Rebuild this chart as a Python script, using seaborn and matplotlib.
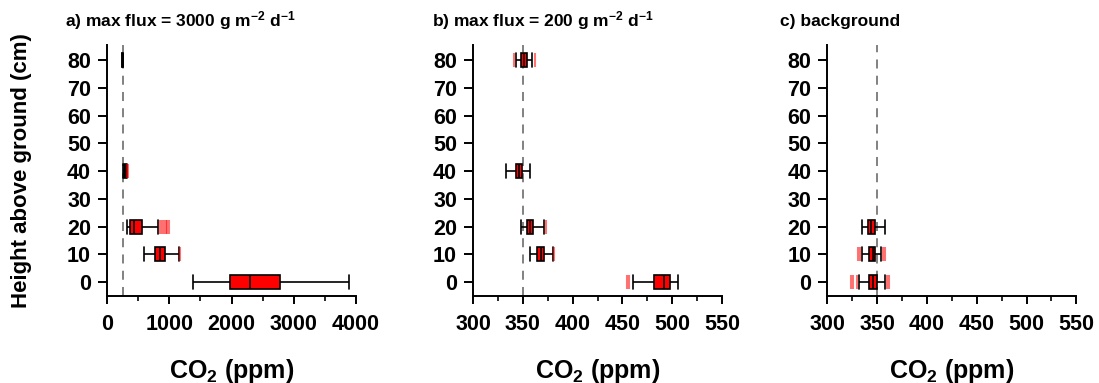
import numpy as np
import pandas as pd
import matplotlib
matplotlib.use("Agg")
import matplotlib.pyplot as plt
from matplotlib.ticker import MultipleLocator
import seaborn as sns

# ---- data (five-number summaries per height) ----
heights_a = [0, 10, 20, 40, 80]
lo_a  = [1376, 587, 315, 255, 238]
q1_a  = [1968, 773, 368, 268, 245]
med_a = [2304, 859, 437, 285, 250]
q3_a  = [2779, 928, 555, 305, 255]
hi_a  = [3883, 1157, 821, 318, 262]
out_h_a = [20, 20, 20, 20, 20, 20, 10, 40, 40]
out_v_a = [850, 880, 910, 940, 970, 995, 1173, 325, 335]

heights_b = [0, 10, 20, 40, 80]
lo_b  = [461.0, 356.8, 348.0, 333.3, 342.7]
q1_b  = [482.0, 364.5, 353.8, 343.3, 348.4]
med_b = [491.5, 368.0, 357.0, 346.0, 351.0]
q3_b  = [497.6, 371.2, 360.5, 349.4, 353.8]
hi_b  = [505.6, 380.3, 371.2, 356.8, 359.5]
out_h_b = [0, 0, 10, 20, 80, 80]
out_v_b = [454.6, 457.0, 381.0, 373.0, 341.0, 361.8]

heights_c = [0, 10, 20]
lo_c  = [332.3, 334.6, 334.6]
q1_c  = [342.3, 342.3, 340.7]
med_c = [345.7, 345.7, 344.0]
q3_c  = [349.7, 348.0, 348.0]
hi_c  = [357.8, 353.8, 357.8]
out_h_c = [0, 0, 0, 0, 0, 10, 10, 10, 10]
out_v_c = [323.5, 326.2, 329.6, 359.8, 361.5, 330.5, 333.0, 356.0, 358.0]

ref_a, ref_b, ref_c = 250, 350, 350

titles = ["a) max flux = 3000 g m$^{\\mathbf{-2}}$ d$^{\\mathbf{-1}}$",
          "b) max flux = 200 g m$^{\\mathbf{-2}}$ d$^{\\mathbf{-1}}$",
          "c) background"]
xlabel = "CO$_\\mathbf{2}$ (ppm)"
ylabel = "Height above ground (cm)"

sns.set_style("ticks")
plt.rcParams['font.family'] = ['Liberation Sans', 'DejaVu Sans']
plt.rcParams['font.weight'] = 'bold'
plt.rcParams['text.color'] = 'black'
plt.rcParams['axes.labelcolor'] = 'black'
plt.rcParams['mathtext.fontset'] = 'custom'
plt.rcParams['mathtext.rm'] = 'Liberation Sans:bold'
plt.rcParams['mathtext.bf'] = 'Liberation Sans:bold'
plt.rcParams['mathtext.default'] = 'bf'

fig = plt.figure(figsize=(10.99, 3.83), dpi=100)
W, H = 1099, 383
lefts = [107, 473, 827.3]
aw = 249
bottom_px, top_px = 296, 45
ah = bottom_px - top_px

panels = [
    (heights_a, lo_a, q1_a, med_a, q3_a, hi_a, out_h_a, out_v_a, ref_a, (0, 4000), 1000, 500),
    (heights_b, lo_b, q1_b, med_b, q3_b, hi_b, out_h_b, out_v_b, ref_b, (300, 550), 50, 25),
    (heights_c, lo_c, q1_c, med_c, q3_c, hi_c, out_h_c, out_v_c, ref_c, (300, 550), 50, 25),
]
title_x = [65, 432, 780]

for i, (hs, lo, q1, med, q3, hi, oh, ov, ref, xlim, maj, mnr) in enumerate(panels):
    ax = fig.add_axes([lefts[i] / W, 1 - bottom_px / H, aw / W, ah / H])
    rows = []
    for h, a, b, c, d, e in zip(hs, lo, q1, med, q3, hi):
        for v in (a, b, c, d, e):
            rows.append({"height": h, "co2": v})
    df = pd.DataFrame(rows)
    ax.axvline(ref, color="#777777", lw=1.3, ls=(0, (5, 4)), zorder=0)
    sns.boxplot(data=df, x="co2", y="height", orient="y", native_scale=True,
                whis=(0, 100), width=0.5, color="#ff0000", saturation=1,
                linecolor="black", linewidth=1.2, fliersize=0, capwidths=5,
                ax=ax)
    sns.scatterplot(x=ov, y=oh, marker="|", color="red", s=90, linewidth=1.5,
                    alpha=0.55, ax=ax, zorder=3)
    ax.set_xlim(*xlim)
    ax.set_ylim(-5, 85.5)
    ax.xaxis.set_major_locator(MultipleLocator(maj))
    ax.xaxis.set_minor_locator(MultipleLocator(mnr))
    ax.set_yticks(np.arange(0, 81, 10))
    ax.tick_params(axis="both", which="major", labelsize=15.5, width=1.4,
                   direction="out", colors="black")
    ax.tick_params(axis="x", which="major", length=6, pad=7)
    ax.tick_params(axis="y", which="major", length=6.5, pad=5)
    ax.tick_params(axis="x", which="minor", width=1.4, length=3.5, direction="out")
    for lab in ax.get_xticklabels() + ax.get_yticklabels():
        lab.set_fontweight("bold")
    for s in ["top", "right"]:
        ax.spines[s].set_visible(False)
    for s in ["left", "bottom"]:
        ax.spines[s].set_linewidth(1.4)
        ax.spines[s].set_color("black")
    ax.set_xlabel(xlabel, fontsize=18, fontweight="bold", va="top")
    ax.xaxis.set_label_coords(0.5, -(357 - bottom_px) / ah)
    if i == 0:
        ax.set_ylabel(ylabel, fontsize=16, fontweight="bold")
        ax.yaxis.set_label_coords((32 - lefts[0]) / aw, 0.5)
    else:
        ax.set_ylabel("")
    fig.text(title_x[i] / W, 1 - 26 / H, titles[i], fontsize=12.5, fontweight="bold",
             ha="left", va="baseline")

fig.savefig("out.png", dpi=100)
